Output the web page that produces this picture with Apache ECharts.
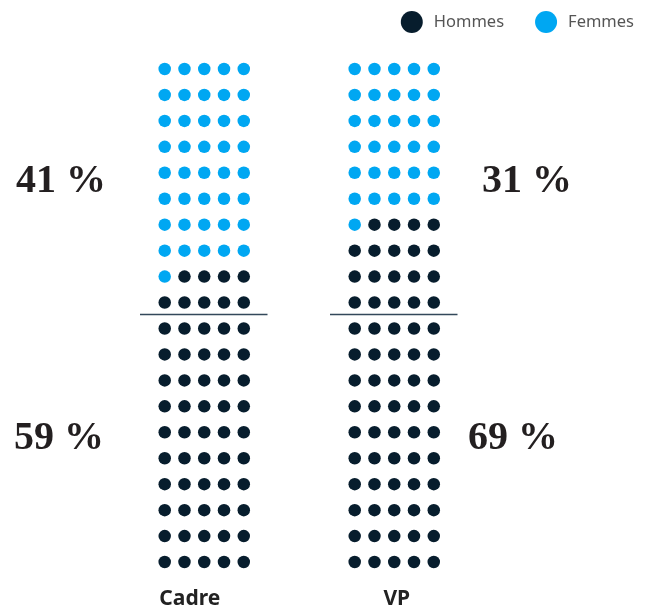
<!DOCTYPE html>
<html>
<head>
<meta charset="utf-8">
<script src="https://cdn.jsdelivr.net/npm/echarts@6/dist/echarts.min.js"></script>
<style>
  html, body { margin: 0; padding: 0; background: #fff; }
  #chart { width: 650px; height: 610px; }
</style>
</head>
<body>
<div id="chart"></div>
<script>
// Share of women and men (out of 100) per job level
const categories = ['Cadre', 'VP'];
const femmes = [41, 31];
const hommes = [59, 69];
const seriesNames = ['Hommes', 'Femmes'];

const COLS = 5;
const ROWS = 20;
const colorHommes = '#071d2d';
const colorFemmes = '#00a7f2';

// Build waffle cells: men fill from the bottom row upward,
// each row filled from the right; women take the remaining cells above.
function waffleCells(men) {
  const h = [], f = [];
  for (let i = 0; i < COLS * ROWS; i++) {
    const row = Math.floor(i / COLS);
    const k = i % COLS;
    const col = COLS - 1 - k;
    (i < men ? h : f).push([col, row]);
  }
  return { h, f };
}

const grids = [
  { left: 140, top: 56, width: 127.5, height: 519, outerBoundsMode: 'none' },
  { left: 330, top: 56, width: 127.5, height: 519, outerBoundsMode: 'none' }
];
// small horizontal nudges for the category captions
const captionPadding = [[0, 28, 0, 0], [0, 0, 0, 6]];

const xAxes = [], yAxes = [], series = [];
categories.forEach((cat, g) => {
  xAxes.push({
    type: 'value', gridIndex: g, min: -1.25, max: 5.2,
    show: true,
    axisLine: { show: false }, axisTick: { show: false },
    axisLabel: { show: false }, splitLine: { show: false },
    name: cat, nameLocation: 'middle', nameGap: 14,
    nameTextStyle: {
      fontFamily: 'Noto Sans', fontWeight: 'bold', fontSize: 21, color: '#222',
      padding: captionPadding[g]
    }
  });
  yAxes.push({
    type: 'value', gridIndex: g, min: -0.5, max: 19.5,
    show: false, splitLine: { show: false }
  });
  const cells = waffleCells(hommes[g]);
  series.push({
    name: 'Hommes', type: 'scatter', xAxisIndex: g, yAxisIndex: g,
    symbol: 'circle', symbolSize: 12.5, data: cells.h,
    itemStyle: { color: colorHommes, opacity: 1 }, silent: true,
    markLine: {
      silent: true, symbol: 'none', label: { show: false },
      lineStyle: { color: '#33485a', width: 1.3, type: 'solid', opacity: 1 },
      data: [{ yAxis: 9.55 }]
    }
  });
  series.push({
    name: 'Femmes', type: 'scatter', xAxisIndex: g, yAxisIndex: g,
    symbol: 'circle', symbolSize: 12.5, data: cells.f,
    itemStyle: { color: colorFemmes, opacity: 1 }, silent: true
  });
});

const chart = echarts.init(document.getElementById('chart'));
chart.setOption({
  animation: false,
  color: [colorHommes, colorFemmes],
  legend: {
    data: seriesNames, right: 11, top: 6,
    icon: 'circle', itemWidth: 22, itemHeight: 22, itemGap: 31,
    itemStyle: { opacity: 1 },
    textStyle: { fontFamily: 'Noto Sans', fontSize: 16.5, color: '#555', padding: [0, 0, 0, 6] }
  },
  grid: grids,
  xAxis: xAxes,
  yAxis: yAxes,
  series: series
});

// Percentage labels beside each half of the waffles
const pctStyle = { fontFamily: 'Liberation Serif', fontWeight: 'bold', fontSize: 40, fill: '#231f20' };
const labels = [
  { text: femmes[0] + ' %', x: 61, y: 182 },
  { text: hommes[0] + ' %', x: 59, y: 439 },
  { text: femmes[1] + ' %', x: 527, y: 182 },
  { text: hommes[1] + ' %', x: 513, y: 439 }
];
chart.setOption({
  graphic: labels.map(l => ({
    type: 'text', x: l.x, y: l.y,
    style: Object.assign({ text: l.text, align: 'center', verticalAlign: 'middle' }, pctStyle)
  }))
});
</script>
</body>
</html>
